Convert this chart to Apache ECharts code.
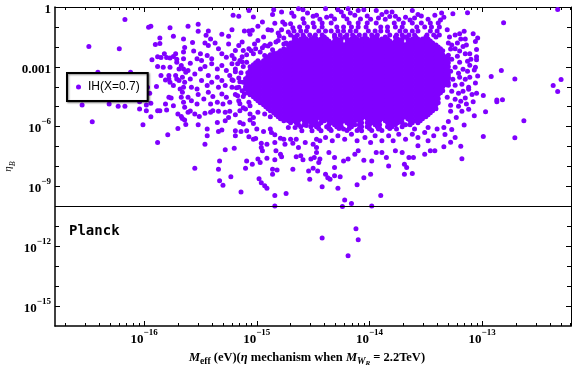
<!DOCTYPE html>
<html>
<head>
<meta charset="utf-8">
<script src="https://cdn.jsdelivr.net/npm/echarts@6/dist/echarts.min.js"></script>
<style>
  html, body { margin: 0; padding: 0; background: #fff; }
  #eta-scatter { width: 576px; height: 370px; }
</style>
</head>
<body>
<div id="eta-scatter"></div>
<script>
// axis ranges and reference line
const xMin = 1.62e-17
const xMax = 6.14e-13
const yMin = 1e-16
const yMax = 1
const planck = 1e-10

// tick positions
const xMajor = [1e-16, 1e-15, 1e-14, 1e-13]
const xMinor = [2e-17, 3e-17, 4e-17, 5e-17, 6e-17, 7e-17, 8e-17, 9e-17,
  2e-16, 3e-16, 4e-16, 5e-16, 6e-16, 7e-16, 8e-16, 9e-16,
  2e-15, 3e-15, 4e-15, 5e-15, 6e-15, 7e-15, 8e-15, 9e-15,
  2e-14, 3e-14, 4e-14, 5e-14, 6e-14, 7e-14, 8e-14, 9e-14,
  2e-13, 3e-13, 4e-13, 5e-13, 6e-13]
const yMajor = [1e-15, 1e-12, 1e-9, 1e-6, 1e-3, 1]
const yMinor = [1e-14, 1e-13, 1e-11, 1e-10, 1e-8, 1e-7, 1e-5, 1e-4, 1e-2, 1e-1]

// points as [log10 Meff, log10 etaB]
const leftPts = [
  [-16.17,-0.63],[-15.96,-1.01],[-15.94,-0.96],[-15.77,-1.04],[-15.61,-0.97],[-15.52,-0.86],
  [-16.49,-1.98],[-16.22,-2.09],[-15.86,-1.55],[-15.74,-1.47],[-15.65,-1.60],[-15.90,-1.88],[-15.86,-1.83],[-15.64,-2.03],[-15.57,-1.78],
  [-15.82,-2.34],[-15.72,-2.34],[-15.88,-2.50],[-15.85,-2.53],[-15.93,-2.65],[-15.80,-2.53],[-15.77,-2.56],[-15.74,-2.48],[-15.71,-2.62],[-15.65,-2.26],[-15.65,-2.60],
  [-15.83,-3.02],[-15.77,-3.02],[-15.88,-2.98],[-15.71,-2.77],[-15.69,-3.11],[-15.65,-3.11],[-15.67,-2.93],
  [-15.85,-3.44],[-15.78,-3.44],[-15.72,-3.44],[-15.71,-3.61],[-15.78,-3.61],[-15.81,-3.66],[-15.77,-3.77],[-15.74,-3.94],[-15.69,-3.69],[-15.66,-3.52],
  [-16.41,-3.27],[-16.12,-3.27],[-15.63,-3.27],[-15.64,-3.77],[-15.65,-4.03],[-15.68,-4.11],[-15.66,-4.28],[-15.89,-3.99],[-15.97,-4.03],[-15.95,-4.33],
  [-15.78,-4.53],[-15.76,-4.56],[-15.94,-4.83],[-15.81,-4.87],[-15.74,-4.95],[-16.04,-4.75],[-15.98,-4.92],[-16.17,-4.98],[-16.31,-4.86],[-16.55,-4.91],
  [-16.23,-4.98],[-15.67,-4.53],[-15.65,-4.78],[-15.64,-5.03],
  [-16.04,-5.11],[-15.98,-5.21],[-15.88,-5.20],[-15.86,-5.20],[-15.80,-5.17],[-15.94,-5.50],[-16.01,-5.90],[-15.70,-5.37],[-15.67,-5.49],[-15.66,-5.59],
  [-15.64,-5.67],[-15.70,-6.09],[-15.79,-6.41],[-15.88,-6.79],[-16.46,-5.75],[-15.59,-5.22],[-15.63,-5.89],[-15.51,-5.49],[-15.55,-8.09]
]
const midPts = [
  [-15.21,-0.42],[-15.16,-0.47],[-15.07,-0.17],[-15.03,-0.50],[-14.85,-0.14],[-14.78,-0.25],[-14.86,-0.37],[-14.95,-0.75],[-14.84,-0.81],[-14.69,-0.30],
  [-14.67,-0.47],[-14.63,-0.09],[-14.59,-0.14],[-14.55,-0.30],[-14.50,-0.47],[-14.59,-0.59],[-14.77,-0.75],[-14.75,-0.87],[-14.70,-0.84],
  [-15.52,-1.22],[-15.43,-1.21],[-15.45,-1.42],[-15.41,-1.60],[-15.31,-1.37],[-15.25,-1.47],[-15.22,-1.14],[-15.11,-1.21],[-15.07,-1.21],[-15.04,-1.17],
  [-15.06,-1.37],[-14.99,-0.97],[-14.90,-1.14],[-14.87,-1.17],[-14.94,-1.51],[-14.81,-1.31],[-14.78,-1.14],[-14.72,-1.26],[-14.68,-1.04],
  [-15.46,-1.81],[-15.43,-1.93],[-15.37,-1.81],[-15.34,-2.10],[-15.25,-1.85],[-15.16,-1.93],[-15.13,-1.76],[-15.19,-2.18],[-15.12,-2.18],[-15.07,-2.10],
  [-15.02,-1.85],[-14.99,-1.68],[-14.93,-1.93],[-14.88,-1.85],[-14.81,-1.68],[-14.76,-1.85],
  [-15.56,-2.21],[-15.50,-2.35],[-15.53,-2.60],[-15.49,-2.68],[-15.44,-2.43],[-15.40,-2.60],[-15.31,-2.35],[-15.27,-2.52],[-15.22,-2.43],[-15.03,-2.35],
  [-14.97,-2.26],[-14.93,-2.43],
  [-15.59,-2.82],[-15.61,-3.19],[-15.55,-3.36],[-15.50,-3.11],[-15.46,-2.98],[-15.40,-2.85],[-15.35,-3.11],[-15.31,-2.93],[-15.27,-3.19],[-15.22,-2.85],
  [-15.19,-3.11],[-15.15,-2.68],[-15.12,-2.98],[-15.09,-2.77],
  [-15.58,-4.03],[-15.53,-4.11],[-15.59,-3.61],[-15.49,-3.69],[-15.43,-3.44],[-15.40,-3.77],[-15.44,-3.94],[-15.35,-3.52],[-15.31,-3.69],[-15.34,-4.03],
  [-15.28,-3.94],[-15.24,-3.44],[-15.21,-3.69],[-15.16,-3.56],[-15.12,-3.77],[-15.07,-3.61],[-15.22,-4.03],[-15.16,-4.03],[-15.10,-4.11],
  [-15.61,-4.53],[-15.58,-4.70],[-15.52,-4.39],[-15.47,-4.61],[-15.53,-4.87],[-15.43,-4.28],[-15.39,-4.49],[-15.41,-4.87],[-15.35,-4.78],[-15.31,-4.36],
  [-15.27,-4.53],[-15.30,-4.87],[-15.24,-4.78],[-15.19,-4.39],[-15.16,-4.70],[-15.12,-4.49],[-15.07,-4.78],
  [-15.17,-2.85],[-15.13,-2.75],[-15.19,-3.25],[-15.14,-3.30],[-15.22,-3.65],[-15.15,-3.75],[-15.18,-4.05],[-15.13,-4.20],[-15.17,-4.45],[-15.11,-4.35],
  [-15.15,-4.85],[-15.06,-4.95],[-15.12,-5.05],[-15.20,-2.60],[-15.13,-2.50],[-15.09,-2.40],[-15.05,-2.20],[-15.01,-2.10],[-14.95,-2.05],[-14.90,-1.95],
  [-14.86,-2.15],[-14.83,-1.75],[-14.76,-1.55],[-14.80,-1.45]
]
const topPts = [
  [-14.39,-0.09],[-14.28,-0.14],[-14.25,-0.25],[-14.19,-0.09],[-14.17,-0.30],[-14.10,-0.17],[-14.05,-0.14],[-13.94,-0.17],[-13.89,-0.37],[-13.85,-0.25],
  [-13.80,-0.25],[-13.77,-0.47],[-13.62,-0.17],[-13.57,-0.37],
  [-14.47,-0.42],[-14.44,-0.62],[-14.38,-0.52],[-14.34,-0.45],[-14.31,-0.60],[-14.23,-0.45],[-14.20,-0.60],[-14.13,-0.42],[-14.08,-0.60],[-14.02,-0.45],
  [-13.99,-0.62],[-13.92,-0.55],[-13.86,-0.62],[-13.82,-0.48],[-13.74,-0.62],[-13.68,-0.52],[-13.64,-0.65],[-13.60,-0.55],[-13.54,-0.45],[-13.48,-0.62],
  [-13.42,-0.42],[-13.37,-0.65],[-13.34,-0.52]
]
const rightPts = [
  [-13.36,-0.30],[-13.26,-0.34],[-13.13,-0.29],[-12.33,-0.12],[-12.81,-0.79],[-13.31,-1.14],[-13.20,-1.34],[-13.16,-1.22],[-13.19,-1.60],[-13.15,-1.60],
  [-13.08,-1.34],[-13.04,-1.55],[-13.06,-1.73],[-13.30,-1.80],[-13.27,-1.90],[-13.22,-1.80],[-13.24,-2.10],[-13.20,-2.21],[-13.17,-1.98],[-13.05,-2.13],
  [-13.15,-2.35],[-13.11,-2.35],[-13.05,-2.50],[-13.05,-2.64],[-13.20,-2.77],[-13.13,-2.72],[-13.06,-3.02],[-13.07,-3.16],[-13.04,-3.46],
  [-12.92,-3.49],[-12.83,-3.19],[-12.71,-3.61],[-12.37,-3.94],[-12.33,-4.24],[-12.30,-3.64],[-13.06,-3.81],[-13.05,-4.33],[-12.99,-4.44],[-13.09,-4.39],
  [-13.15,-4.56],[-12.87,-4.67],[-12.82,-4.65],[-12.87,-4.75],[-13.08,-4.75],[-13.14,-4.87],
  [-13.28,-2.11],[-13.30,-2.42],[-13.27,-2.62],[-13.31,-2.92],[-13.24,-3.02],[-13.28,-3.22],[-13.21,-3.32],[-13.17,-3.12],[-13.13,-3.22],[-13.30,-3.52],
  [-13.26,-3.62],[-13.20,-3.52],[-13.15,-3.62],[-13.11,-3.52],[-13.30,-3.93],[-13.24,-3.93],[-13.18,-3.88],[-13.12,-4.03],[-13.27,-4.23],[-13.21,-4.33],
  [-13.31,-4.53],[-13.24,-4.63],[-13.19,-4.73],[-13.28,-4.93],[-13.21,-4.98],[-13.11,-2.92],[-13.22,-2.47],[-13.14,-1.91],[-13.29,-1.51],[-13.24,-1.41],
  [-13.10,-2.62],[-13.12,-4.13],[-13.17,-4.23]
]
const lowerPts = [
  [-15.61,-5.28],[-15.55,-5.37],[-15.46,-5.33],[-15.41,-5.28],[-15.39,-5.20],[-15.34,-5.23],[-15.28,-5.28],[-15.24,-5.23],[-15.19,-5.40],[-15.15,-5.20],
  [-15.10,-5.12],[-15.06,-5.37],[-15.03,-5.54],[-14.99,-5.28],[-14.93,-5.37],[-14.88,-5.50],
  [-15.35,-5.79],[-15.28,-5.70],[-15.25,-5.54],[-15.15,-5.79],[-15.12,-5.87],[-15.06,-5.67],[-15.03,-5.84],[-15.00,-6.12],[-14.94,-6.24],[-14.88,-6.12],
  [-14.87,-6.29],[-14.84,-6.41],[-14.84,-6.79],[-14.75,-6.88],[-14.65,-6.63],[-14.68,-6.84],
  [-15.52,-5.90],[-15.44,-6.12],[-15.44,-6.46],[-15.46,-6.88],[-15.34,-6.24],[-15.31,-6.17],[-15.28,-7.16],[-15.20,-7.08],[-15.19,-6.21],[-15.19,-6.46],
  [-15.14,-6.24],[-15.09,-6.21],[-15.07,-6.51],[-15.03,-6.63],[-15.01,-6.59],[-14.96,-6.84],[-14.96,-7.05],[-14.95,-7.21],[-14.91,-6.88],[-14.79,-6.58],
  [-14.76,-6.63],[-14.70,-6.63],[-14.83,-7.21],[-14.79,-7.38],[-14.78,-7.51],
  [-15.33,-7.72],[-15.34,-8.14],[-15.09,-7.72],[-15.10,-8.09],[-15.04,-7.89],[-14.99,-7.63],[-14.97,-7.80],[-14.91,-7.58],[-14.84,-7.66],[-14.86,-8.14],
  [-14.82,-8.17],[-14.86,-8.39],[-14.68,-8.14],[-14.65,-7.51],[-14.61,-7.46],[-14.59,-7.66],[-14.52,-7.63],[-14.49,-7.55],[-14.54,-8.22],[-14.50,-8.09],
  [-14.53,-8.64],
  [-15.33,-8.72],[-15.30,-8.94],[-15.23,-8.52],[-14.98,-8.61],[-14.96,-8.81],[-14.93,-8.97],[-14.91,-9.09],[-15.14,-9.28],[-14.84,-9.45],[-14.74,-9.35],
  [-14.84,-9.98],
  [-14.75,-5.54],[-14.72,-6.04],[-14.66,-6.04],[-14.60,-6.21],[-14.56,-5.94],[-14.51,-6.21],[-14.63,-7.05],[-14.57,-6.79],[-14.50,-6.88],
  [-14.47,-6.63],[-14.47,-7.05],[-14.47,-7.30],[-14.44,-7.63],[-14.45,-7.80],[-14.46,-8.22],[-14.39,-8.39],[-14.37,-8.56],[-14.35,-8.64],[-14.42,-9.01],
  [-14.31,-8.05],[-14.31,-8.47],[-14.26,-8.52],[-14.28,-9.09],[-14.22,-9.68],[-14.16,-9.85],[-14.24,-10.00],[-14.11,-8.92],[-14.05,-8.56],[-13.99,-8.39],
  [-13.98,-9.98],[-13.90,-9.45],[-13.83,-7.97],[-13.69,-7.89],[-13.67,-8.05],[-13.69,-8.39],[-13.62,-8.35],[-13.65,-7.55],[-13.61,-7.55],[-13.51,-7.38],
  [-13.46,-7.21],[-13.42,-7.21],[-13.34,-7.01],[-13.34,-6.04],[-13.57,-6.96],[-13.48,-6.71],
  [-14.44,-6.71],[-14.36,-7.30],[-14.31,-7.55],[-14.23,-7.72],[-14.19,-7.63],[-14.13,-7.38],[-14.10,-7.21],[-14.05,-7.69],[-13.98,-7.72],[-13.94,-7.30],
  [-13.89,-7.30],[-13.85,-7.55],[-13.77,-7.21],[-13.71,-7.30],
  [-14.39,-6.54],[-14.33,-6.71],[-14.28,-6.46],[-14.22,-6.63],[-14.16,-6.38],[-14.11,-6.71],[-14.04,-6.54],[-13.99,-6.79],[-13.95,-6.46],[-13.89,-6.71],
  [-13.83,-6.46],[-13.79,-6.71],[-13.74,-6.38],[-13.68,-6.63],[-13.62,-6.38],[-13.57,-6.54],[-13.51,-6.29],[-13.43,-6.46],[-13.40,-6.12],
  [-14.43,-6.21],[-14.35,-6.12],[-14.23,-6.12],[-14.07,-6.21],[-13.92,-6.12],[-13.76,-6.12],[-13.60,-6.12],[-13.48,-6.04],
  [-13.07,-5.45],[-13.16,-5.92],[-12.97,-5.25],[-12.63,-5.70],[-12.99,-6.49],[-12.71,-6.56],[-13.19,-6.98],[-13.18,-7.61],[-13.28,-6.78],
  [-13.28,-5.23],[-13.23,-5.54],[-13.30,-5.74],[-13.18,-5.23],[-13.27,-6.14],[-13.12,-5.13],[-13.33,-6.39],[-13.24,-6.54]
]
const tailPts = [[-14.42,-11.58],[-14.12,-11.12],[-14.10,-11.68],[-14.19,-12.48]]

// the packed centre of the cloud, one row per log10 etaB: [log10 etaB, [log10 Meff, ...]]
const coreRows = [
  [-0.8, [-14.58,-14.50,-14.42,-14.34,-14.18,-14.10,-14.02,-13.94,-13.78,-13.70,-13.62,-13.54,-13.46,-13.39]],
  [-1.0, [-14.62,-14.55,-14.49,-14.42,-14.29,-14.23,-14.16,-14.10,-14.03,-13.90,-13.84,-13.77,-13.71,-13.58,-13.51,-13.45,-13.38]],
  [-1.2, [-14.67,-14.61,-14.56,-14.45,-14.39,-14.34,-14.28,-14.23,-14.17,-14.12,-14.01,-13.95,-13.90,-13.84,-13.73,-13.68,-13.62,-13.57,-13.46,-13.40]],
  [-1.4, [-14.70,-14.64,-14.59,-14.53,-14.48,-14.42,-14.31,-14.26,-14.20,-14.15,-14.09,-14.04,-13.98,-13.93,-13.82,-13.76,-13.71,-13.65,-13.60,-13.49,-13.43,-13.38]],
  [-1.5, [-14.67,-14.58,-14.49,-14.40,-14.31,-14.22,-14.13,-14.04,-13.95,-13.86,-13.77,-13.68,-13.59,-13.50,-13.41]],
  [-1.6, [-14.65,-14.61,-14.56,-14.52,-14.47,-14.43,-14.38,-14.29,-14.25,-14.20,-14.16,-14.11,-14.07,-14.02,-13.98,-13.93,-13.89,-13.84,-13.75,-13.71,-13.66,-13.62,-13.57,-13.53,-13.48]],
  [-1.7, [-14.67,-14.63,-14.58,-14.54,-14.49,-14.45,-14.40,-14.36,-14.31,-14.27,-14.18,-14.13,-14.09,-14.04,-14.00,-13.95,-13.91,-13.86,-13.82,-13.77,-13.73,-13.64,-13.59,-13.55,-13.50,-13.46]],
  [-1.8, [-14.74,-14.70,-14.65,-14.61,-14.56,-14.52,-14.47,-14.43,-14.38,-14.34,-14.29,-14.25,-14.20,-14.16,-14.11,-14.07,-14.02,-13.98,-13.93,-13.89,-13.84,-13.80,-13.75,-13.71,-13.66,-13.62,-13.57,-13.53,-13.48,-13.44]],
  [-1.9, [-14.72,-14.67,-14.63,-14.58,-14.54,-14.49,-14.45,-14.40,-14.36,-14.31,-14.27,-14.22,-14.18,-14.13,-14.09,-14.04,-14.00,-13.95,-13.91,-13.86,-13.82,-13.77,-13.73,-13.68,-13.64,-13.59,-13.55,-13.50,-13.46,-13.41]],
  [-2.0, [-14.70,-14.65,-14.61,-14.56,-14.52,-14.47,-14.43,-14.38,-14.34,-14.29,-14.25,-14.20,-14.16,-14.11,-14.07,-14.02,-13.98,-13.93,-13.89,-13.84,-13.80,-13.75,-13.71,-13.66,-13.62,-13.57,-13.53,-13.48,-13.44,-13.39]],
  [-2.1, [-14.76,-14.72,-14.67,-14.63,-14.58,-14.54,-14.49,-14.45,-14.40,-14.36,-14.31,-14.27,-14.22,-14.18,-14.13,-14.09,-14.04,-14.00,-13.95,-13.91,-13.86,-13.82,-13.77,-13.73,-13.68,-13.64,-13.59,-13.55,-13.50,-13.46,-13.41,-13.37]],
  [-2.2, [-14.79,-14.74,-14.70,-14.65,-14.61,-14.56,-14.52,-14.47,-14.43,-14.38,-14.34,-14.29,-14.25,-14.20,-14.16,-14.11,-14.07,-14.02,-13.98,-13.93,-13.89,-13.84,-13.80,-13.75,-13.71,-13.66,-13.62,-13.57,-13.53,-13.48,-13.44,-13.39,-13.35]],
  [-2.3, [-14.85,-14.81,-14.76,-14.72,-14.67,-14.63,-14.58,-14.54,-14.49,-14.45,-14.40,-14.36,-14.31,-14.27,-14.22,-14.18,-14.13,-14.09,-14.04,-14.00,-13.95,-13.91,-13.86,-13.82,-13.77,-13.73,-13.68,-13.64,-13.59,-13.55,-13.50,-13.46,-13.41,-13.37]],
  [-2.4, [-14.88,-14.83,-14.79,-14.74,-14.70,-14.65,-14.61,-14.56,-14.52,-14.47,-14.43,-14.38,-14.34,-14.29,-14.25,-14.20,-14.16,-14.11,-14.07,-14.02,-13.98,-13.93,-13.89,-13.84,-13.80,-13.75,-13.71,-13.66,-13.62,-13.57,-13.53,-13.48,-13.44,-13.39,-13.35]],
  [-2.5, [-14.90,-14.85,-14.81,-14.76,-14.72,-14.67,-14.63,-14.58,-14.54,-14.49,-14.45,-14.40,-14.36,-14.31,-14.27,-14.22,-14.18,-14.13,-14.09,-14.04,-14.00,-13.95,-13.91,-13.86,-13.82,-13.77,-13.73,-13.68,-13.64,-13.59,-13.55,-13.50,-13.46,-13.41,-13.37,-13.32]],
  [-2.6, [-14.92,-14.88,-14.83,-14.79,-14.74,-14.70,-14.65,-14.61,-14.56,-14.52,-14.47,-14.43,-14.38,-14.34,-14.29,-14.25,-14.20,-14.16,-14.11,-14.07,-14.02,-13.98,-13.93,-13.89,-13.84,-13.80,-13.75,-13.71,-13.66,-13.62,-13.57,-13.53,-13.48,-13.44,-13.39,-13.35,-13.30]],
  [-2.7, [-14.99,-14.94,-14.90,-14.85,-14.81,-14.76,-14.72,-14.67,-14.63,-14.58,-14.54,-14.49,-14.45,-14.40,-14.36,-14.31,-14.27,-14.22,-14.18,-14.13,-14.09,-14.04,-14.00,-13.95,-13.91,-13.86,-13.82,-13.77,-13.73,-13.68,-13.64,-13.59,-13.55,-13.50,-13.46,-13.41,-13.37,-13.32]],
  [-2.8, [-15.01,-14.97,-14.92,-14.88,-14.83,-14.79,-14.74,-14.70,-14.65,-14.61,-14.56,-14.52,-14.47,-14.43,-14.38,-14.34,-14.29,-14.25,-14.20,-14.16,-14.11,-14.07,-14.02,-13.98,-13.93,-13.89,-13.84,-13.80,-13.75,-13.71,-13.66,-13.62,-13.57,-13.53,-13.48,-13.44,-13.39,-13.35,-13.30]],
  [-2.9, [-15.03,-14.99,-14.94,-14.90,-14.85,-14.81,-14.76,-14.72,-14.67,-14.63,-14.58,-14.54,-14.49,-14.45,-14.40,-14.36,-14.31,-14.27,-14.22,-14.18,-14.13,-14.09,-14.04,-14.00,-13.95,-13.91,-13.86,-13.82,-13.77,-13.73,-13.68,-13.64,-13.59,-13.55,-13.50,-13.46,-13.41,-13.37,-13.32]],
  [-3.0, [-15.06,-15.01,-14.97,-14.92,-14.88,-14.83,-14.79,-14.74,-14.70,-14.65,-14.61,-14.56,-14.52,-14.47,-14.43,-14.38,-14.34,-14.29,-14.25,-14.20,-14.16,-14.11,-14.07,-14.02,-13.98,-13.93,-13.89,-13.84,-13.80,-13.75,-13.71,-13.66,-13.62,-13.57,-13.53,-13.48,-13.44,-13.39,-13.35,-13.30]],
  [-3.1, [-15.03,-14.99,-14.94,-14.90,-14.85,-14.81,-14.76,-14.72,-14.67,-14.63,-14.58,-14.54,-14.49,-14.45,-14.40,-14.36,-14.31,-14.27,-14.22,-14.18,-14.13,-14.09,-14.04,-14.00,-13.95,-13.91,-13.86,-13.82,-13.77,-13.73,-13.68,-13.64,-13.59,-13.55,-13.50,-13.46,-13.41,-13.37,-13.32]],
  [-3.2, [-15.06,-15.01,-14.97,-14.92,-14.88,-14.83,-14.79,-14.74,-14.70,-14.65,-14.61,-14.56,-14.52,-14.47,-14.43,-14.38,-14.34,-14.29,-14.25,-14.20,-14.16,-14.11,-14.07,-14.02,-13.98,-13.93,-13.89,-13.84,-13.80,-13.75,-13.71,-13.66,-13.62,-13.57,-13.53,-13.48,-13.44,-13.39,-13.35,-13.30]],
  [-3.3, [-15.08,-15.03,-14.99,-14.94,-14.90,-14.85,-14.81,-14.76,-14.72,-14.67,-14.63,-14.58,-14.54,-14.49,-14.45,-14.40,-14.36,-14.31,-14.27,-14.22,-14.18,-14.13,-14.09,-14.04,-14.00,-13.95,-13.91,-13.86,-13.82,-13.77,-13.73,-13.68,-13.64,-13.59,-13.55,-13.50,-13.46,-13.41,-13.37,-13.32]],
  [-3.4, [-15.06,-15.01,-14.97,-14.92,-14.88,-14.83,-14.79,-14.74,-14.70,-14.65,-14.61,-14.56,-14.52,-14.47,-14.43,-14.38,-14.34,-14.29,-14.25,-14.20,-14.16,-14.11,-14.07,-14.02,-13.98,-13.93,-13.89,-13.84,-13.80,-13.75,-13.71,-13.66,-13.62,-13.57,-13.53,-13.48,-13.44,-13.39,-13.35,-13.30]],
  [-3.5, [-15.08,-15.03,-14.99,-14.94,-14.90,-14.85,-14.81,-14.76,-14.72,-14.67,-14.63,-14.58,-14.54,-14.49,-14.45,-14.40,-14.36,-14.31,-14.27,-14.22,-14.18,-14.13,-14.09,-14.04,-14.00,-13.95,-13.91,-13.86,-13.82,-13.77,-13.73,-13.68,-13.64,-13.59,-13.55,-13.50,-13.46,-13.41,-13.37,-13.32]],
  [-3.6, [-15.10,-15.06,-15.01,-14.97,-14.92,-14.88,-14.83,-14.79,-14.74,-14.70,-14.65,-14.61,-14.56,-14.52,-14.47,-14.43,-14.38,-14.34,-14.29,-14.25,-14.20,-14.16,-14.11,-14.07,-14.02,-13.98,-13.93,-13.89,-13.84,-13.80,-13.75,-13.71,-13.66,-13.62,-13.57,-13.53,-13.48,-13.44,-13.39,-13.35,-13.30]],
  [-3.7, [-15.08,-15.03,-14.99,-14.94,-14.90,-14.85,-14.81,-14.76,-14.72,-14.67,-14.63,-14.58,-14.54,-14.49,-14.45,-14.40,-14.36,-14.31,-14.27,-14.22,-14.18,-14.13,-14.09,-14.04,-14.00,-13.95,-13.91,-13.86,-13.82,-13.77,-13.73,-13.68,-13.64,-13.59,-13.55,-13.50,-13.46,-13.41,-13.37,-13.32]],
  [-3.8, [-15.10,-15.06,-15.01,-14.97,-14.92,-14.88,-14.83,-14.79,-14.74,-14.70,-14.65,-14.61,-14.56,-14.52,-14.47,-14.43,-14.38,-14.34,-14.29,-14.25,-14.20,-14.16,-14.11,-14.07,-14.02,-13.98,-13.93,-13.89,-13.84,-13.80,-13.75,-13.71,-13.66,-13.62,-13.57,-13.53,-13.48,-13.44,-13.39,-13.35,-13.30]],
  [-3.9, [-15.08,-15.03,-14.99,-14.94,-14.90,-14.85,-14.81,-14.76,-14.72,-14.67,-14.63,-14.58,-14.54,-14.49,-14.45,-14.40,-14.36,-14.31,-14.27,-14.22,-14.18,-14.13,-14.09,-14.04,-14.00,-13.95,-13.91,-13.86,-13.82,-13.77,-13.73,-13.68,-13.64,-13.59,-13.55,-13.50,-13.46,-13.41,-13.37,-13.32]],
  [-4.0, [-15.10,-15.06,-15.01,-14.97,-14.92,-14.88,-14.83,-14.79,-14.74,-14.70,-14.65,-14.61,-14.56,-14.52,-14.47,-14.43,-14.38,-14.34,-14.29,-14.25,-14.20,-14.16,-14.11,-14.07,-14.02,-13.98,-13.93,-13.89,-13.84,-13.80,-13.75,-13.71,-13.66,-13.62,-13.57,-13.53,-13.48,-13.44,-13.39,-13.35]],
  [-4.1, [-15.08,-15.03,-14.99,-14.94,-14.90,-14.85,-14.81,-14.76,-14.72,-14.67,-14.63,-14.58,-14.54,-14.49,-14.45,-14.40,-14.36,-14.31,-14.27,-14.22,-14.18,-14.13,-14.09,-14.04,-14.00,-13.95,-13.91,-13.86,-13.82,-13.77,-13.73,-13.68,-13.64,-13.59,-13.55,-13.50,-13.46,-13.41,-13.37]],
  [-4.2, [-15.06,-15.01,-14.97,-14.92,-14.88,-14.83,-14.79,-14.74,-14.70,-14.65,-14.61,-14.56,-14.52,-14.47,-14.43,-14.38,-14.34,-14.29,-14.25,-14.20,-14.16,-14.11,-14.07,-14.02,-13.98,-13.93,-13.89,-13.84,-13.80,-13.75,-13.71,-13.66,-13.62,-13.57,-13.53,-13.48,-13.44,-13.39,-13.35]],
  [-4.3, [-15.08,-15.03,-14.99,-14.94,-14.90,-14.85,-14.81,-14.76,-14.72,-14.67,-14.63,-14.58,-14.54,-14.49,-14.45,-14.40,-14.36,-14.31,-14.27,-14.22,-14.18,-14.13,-14.09,-14.04,-14.00,-13.95,-13.91,-13.86,-13.82,-13.77,-13.73,-13.68,-13.64,-13.59,-13.55,-13.50,-13.46,-13.41,-13.37]],
  [-4.4, [-15.06,-15.01,-14.97,-14.92,-14.88,-14.83,-14.79,-14.74,-14.70,-14.65,-14.61,-14.56,-14.52,-14.47,-14.43,-14.38,-14.34,-14.29,-14.25,-14.20,-14.16,-14.11,-14.07,-14.02,-13.98,-13.93,-13.89,-13.84,-13.80,-13.75,-13.71,-13.66,-13.62,-13.57,-13.53,-13.48,-13.44,-13.39]],
  [-4.5, [-15.03,-14.99,-14.94,-14.90,-14.85,-14.81,-14.76,-14.72,-14.67,-14.63,-14.58,-14.54,-14.49,-14.45,-14.40,-14.36,-14.31,-14.27,-14.22,-14.18,-14.13,-14.09,-14.04,-14.00,-13.95,-13.91,-13.86,-13.82,-13.77,-13.73,-13.68,-13.64,-13.59,-13.55,-13.50,-13.46,-13.41]],
  [-4.6, [-15.01,-14.97,-14.92,-14.88,-14.83,-14.79,-14.74,-14.70,-14.65,-14.61,-14.56,-14.52,-14.47,-14.43,-14.38,-14.34,-14.29,-14.25,-14.20,-14.16,-14.11,-14.07,-14.02,-13.98,-13.93,-13.89,-13.84,-13.80,-13.75,-13.71,-13.66,-13.62,-13.57,-13.53,-13.48,-13.44,-13.39]],
  [-4.7, [-14.99,-14.94,-14.90,-14.85,-14.81,-14.76,-14.72,-14.67,-14.63,-14.58,-14.54,-14.49,-14.45,-14.40,-14.36,-14.31,-14.27,-14.22,-14.18,-14.13,-14.09,-14.04,-14.00,-13.95,-13.91,-13.86,-13.82,-13.77,-13.73,-13.68,-13.64,-13.59,-13.55,-13.50,-13.46,-13.41]],
  [-4.8, [-14.97,-14.92,-14.88,-14.83,-14.79,-14.74,-14.70,-14.65,-14.61,-14.56,-14.52,-14.47,-14.43,-14.38,-14.34,-14.29,-14.25,-14.20,-14.16,-14.11,-14.07,-14.02,-13.98,-13.93,-13.89,-13.84,-13.80,-13.75,-13.71,-13.66,-13.62,-13.57,-13.53,-13.48,-13.44,-13.39]],
  [-4.9, [-14.94,-14.90,-14.85,-14.81,-14.76,-14.72,-14.67,-14.63,-14.58,-14.54,-14.49,-14.45,-14.40,-14.36,-14.31,-14.27,-14.22,-14.18,-14.13,-14.09,-14.04,-14.00,-13.95,-13.91,-13.86,-13.82,-13.77,-13.73,-13.68,-13.64,-13.59,-13.55,-13.50,-13.46,-13.41]],
  [-5.0, [-14.92,-14.88,-14.83,-14.79,-14.74,-14.70,-14.65,-14.61,-14.56,-14.52,-14.47,-14.43,-14.38,-14.34,-14.29,-14.25,-14.20,-14.16,-14.11,-14.07,-14.02,-13.98,-13.93,-13.89,-13.84,-13.80,-13.75,-13.71,-13.66,-13.62,-13.57,-13.53,-13.48,-13.44]],
  [-5.1, [-14.90,-14.85,-14.81,-14.76,-14.72,-14.67,-14.63,-14.58,-14.54,-14.49,-14.45,-14.40,-14.36,-14.31,-14.27,-14.22,-14.18,-14.13,-14.09,-14.04,-14.00,-13.95,-13.91,-13.86,-13.82,-13.77,-13.73,-13.68,-13.64,-13.59,-13.55,-13.50,-13.46,-13.41]],
  [-5.2, [-14.88,-14.83,-14.79,-14.74,-14.70,-14.65,-14.61,-14.56,-14.52,-14.47,-14.43,-14.38,-14.34,-14.29,-14.25,-14.20,-14.16,-14.11,-14.07,-14.02,-13.98,-13.93,-13.89,-13.84,-13.80,-13.75,-13.71,-13.66,-13.62,-13.57,-13.53,-13.48,-13.44]],
  [-5.3, [-14.85,-14.81,-14.76,-14.72,-14.67,-14.63,-14.58,-14.54,-14.49,-14.45,-14.40,-14.36,-14.31,-14.27,-14.22,-14.18,-14.13,-14.09,-14.04,-14.00,-13.95,-13.91,-13.86,-13.82,-13.77,-13.73,-13.68,-13.64,-13.59,-13.55,-13.50,-13.46]],
  [-5.4, [-14.83,-14.79,-14.74,-14.70,-14.65,-14.61,-14.56,-14.52,-14.47,-14.43,-14.38,-14.34,-14.29,-14.25,-14.20,-14.16,-14.11,-14.07,-14.02,-13.98,-13.93,-13.89,-13.84,-13.80,-13.75,-13.71,-13.66,-13.62,-13.57,-13.53,-13.48]],
  [-5.5, [-14.81,-14.76,-14.72,-14.67,-14.63,-14.58,-14.54,-14.49,-14.45,-14.40,-14.36,-14.31,-14.27,-14.22,-14.18,-14.13,-14.09,-14.04,-14.00,-13.95,-13.91,-13.86,-13.82,-13.77,-13.73,-13.68,-13.64,-13.59,-13.55,-13.50]],
  [-5.6, [-14.79,-14.74,-14.70,-14.65,-14.61,-14.56,-14.52,-14.47,-14.43,-14.38,-14.34,-14.29,-14.25,-14.20,-14.16,-14.11,-14.07,-14.02,-13.98,-13.93,-13.89,-13.84,-13.80,-13.75,-13.71,-13.66,-13.62,-13.57,-13.53]],
  [-5.7, [-14.76,-14.72,-14.67,-14.63,-14.58,-14.54,-14.49,-14.40,-14.36,-14.31,-14.27,-14.22,-14.18,-14.13,-14.09,-14.00,-13.95,-13.91,-13.86,-13.82,-13.77,-13.73,-13.64,-13.59,-13.55]],
  [-5.8, [-14.70,-14.65,-14.56,-14.52,-14.47,-14.43,-14.34,-14.29,-14.25,-14.20,-14.16,-14.07,-14.02,-13.98,-13.93,-13.84,-13.80,-13.75,-13.71,-13.62,-13.57]],
  [-5.9, [-14.63,-14.58,-14.49,-14.45,-14.36,-14.31,-14.27,-14.18,-14.13,-14.09,-14.00,-13.95,-13.91,-13.82,-13.77,-13.68,-13.64]],
  [-6.0, [-14.61,-14.52,-14.47,-14.38,-14.29,-14.25,-14.16,-14.07,-14.02,-13.93,-13.84,-13.80,-13.71]],
  [-6.1, [-14.45,-14.36,-14.27,-14.18,-14.09,-14.00,-13.91,-13.82]],
  [-6.2, [-14.34,-14.20,-14.11,-13.98,-13.89]]
]

const points = []
;[leftPts, midPts, topPts, rightPts, lowerPts, tailPts].forEach(list => {
  list.forEach(([lx, ly]) => points.push([10 ** lx, 10 ** ly]))
})
coreRows.forEach(([ly, xs]) => {
  xs.forEach(lx => points.push([10 ** lx, 10 ** ly]))
})

const serif = 'Liberation Serif'
const tickRich = {
  b: { fontFamily: serif, fontWeight: 'bold', fontSize: 13, color: '#000', lineHeight: 18, verticalAlign: 'bottom' },
  s: { fontFamily: serif, fontWeight: 'bold', fontSize: 9, color: '#000', lineHeight: 8, verticalAlign: 'top' },
}
const powLabel = (v) => {
  const e = Math.round(Math.log10(v))
  if (e === 0) return '{b|1}'
  if (e === -3) return '{b|0.001}'
  return '{b|10}{s|\u2212' + (-e) + '}'
}
const nameRich = {
  t: { fontFamily: serif, fontWeight: 'bold', fontSize: 12.5, color: '#000', lineHeight: 16, verticalAlign: 'top' },
  i: { fontFamily: serif, fontWeight: 'bold', fontStyle: 'italic', fontSize: 12.5, color: '#000', lineHeight: 16, verticalAlign: 'top' },
  sub: { fontFamily: serif, fontWeight: 'bold', fontSize: 9.5, color: '#000', lineHeight: 10, verticalAlign: 'bottom' },
  subi: { fontFamily: serif, fontWeight: 'bold', fontStyle: 'italic', fontSize: 9.5, color: '#000', lineHeight: 10, verticalAlign: 'bottom' },
  ssub: { fontFamily: serif, fontWeight: 'bold', fontStyle: 'italic', fontSize: 7, color: '#000', lineHeight: 6, verticalAlign: 'bottom' },
}
const tickLine = { color: '#000', width: 1 }

const myChart = echarts.init(document.getElementById('eta-scatter'))
const option = {
  animation: false,
  grid: { left: 55, right: 5, top: 7, bottom: 44, containLabel: false, outerBoundsMode: 'none' },
  legend: {
    data: ['IH(X=0.7)'],
    left: 67,
    top: 73,
    padding: [7, 8, 7, 9],
    itemWidth: 5,
    itemHeight: 5,
    icon: 'circle',
    backgroundColor: '#fff',
    borderColor: '#000',
    borderWidth: 2,
    shadowColor: 'rgba(0,0,0,0.45)',
    shadowBlur: 2,
    shadowOffsetX: 1,
    shadowOffsetY: 1,
    textStyle: { fontFamily: 'Liberation Sans', fontSize: 12, color: '#000', lineHeight: 14, padding: [0, 0, 0, 2] },
  },
  xAxis: [
    {
      type: 'log', position: 'bottom', min: xMin, max: xMax,
      axisLine: { lineStyle: { color: '#000', width: 1.5 } },
      axisTick: { inside: true, length: 5, customValues: xMajor, lineStyle: tickLine },
      axisLabel: { customValues: xMajor, formatter: powLabel, margin: 2, rich: tickRich },
      splitLine: { show: false },
      name: '{i|M}{sub|eff}{t| (eV)(}{i|\u03b7}{t| mechanism when }{i|M}{subi|W}{ssub|R}{t| = 2.2TeV)}',
      nameLocation: 'middle',
      nameGap: 25,
      nameTextStyle: { rich: nameRich, padding: [0, 12, 0, 0] },
    },
    {
      type: 'log', position: 'bottom', min: xMin, max: xMax,
      axisLine: { show: false },
      axisTick: { inside: true, length: 3, customValues: xMinor, lineStyle: tickLine },
      axisLabel: { show: false }, splitLine: { show: false },
    },
    {
      type: 'log', position: 'top', min: xMin, max: xMax,
      axisLine: { lineStyle: { color: '#000', width: 1 } },
      axisTick: { inside: true, length: 5, customValues: xMajor, lineStyle: tickLine },
      axisLabel: { show: false }, splitLine: { show: false },
    },
    {
      type: 'log', position: 'top', min: xMin, max: xMax,
      axisLine: { show: false },
      axisTick: { inside: true, length: 3, customValues: xMinor, lineStyle: tickLine },
      axisLabel: { show: false }, splitLine: { show: false },
    },
  ],
  yAxis: [
    {
      type: 'log', position: 'left', min: yMin, max: yMax,
      axisLine: { lineStyle: { color: '#000', width: 1.5 } },
      axisTick: { inside: true, length: 5, customValues: yMajor, lineStyle: tickLine },
      axisLabel: { customValues: yMajor, formatter: powLabel, margin: 4, rich: tickRich },
      splitLine: { show: false },
      name: '{e|\u03b7}{s|B}',
      nameLocation: 'middle',
      nameRotate: 90,
      nameGap: 38,
      nameMoveOverlap: false,
      nameTextStyle: {
        rich: {
          e: { fontFamily: serif, fontStyle: 'italic', fontSize: 11, color: '#000', lineHeight: 14, verticalAlign: 'top' },
          s: { fontFamily: serif, fontStyle: 'italic', fontSize: 8, color: '#000', lineHeight: 9, verticalAlign: 'bottom' },
        },
      },
    },
    {
      type: 'log', position: 'left', min: yMin, max: yMax,
      axisLine: { show: false },
      axisTick: { inside: true, length: 4, customValues: yMinor, lineStyle: tickLine },
      axisLabel: { show: false }, splitLine: { show: false },
    },
    {
      type: 'log', position: 'right', min: yMin, max: yMax,
      axisLine: { lineStyle: { color: '#000', width: 1 } },
      axisTick: { inside: true, length: 5, customValues: yMajor, lineStyle: tickLine },
      axisLabel: { show: false }, splitLine: { show: false },
    },
    {
      type: 'log', position: 'right', min: yMin, max: yMax,
      axisLine: { show: false },
      axisTick: { inside: true, length: 4, customValues: yMinor, lineStyle: tickLine },
      axisLabel: { show: false }, splitLine: { show: false },
    },
  ],
  series: [
    {
      name: 'IH(X=0.7)',
      type: 'scatter',
      xAxisIndex: 0,
      yAxisIndex: 0,
      symbol: 'circle',
      symbolSize: 5,
      itemStyle: { color: '#8000ff', opacity: 1 },
      emphasis: { disabled: true },
      data: points,
      markLine: {
        silent: true,
        symbol: 'none',
        lineStyle: { color: '#000', width: 1, type: 'solid' },
        label: {
          show: true,
          position: 'insideStartBottom',
          formatter: 'Planck',
          distance: [14, 18],
          fontFamily: 'DejaVu Sans Mono',
          fontWeight: 'bold',
          fontSize: 14,
          color: '#000',
        },
        emphasis: { disabled: true },
        data: [[{ coord: [xMin, planck] }, { coord: [xMax, planck] }]],
      },
    },
  ],
}
myChart.setOption(option)
</script>
</body>
</html>
